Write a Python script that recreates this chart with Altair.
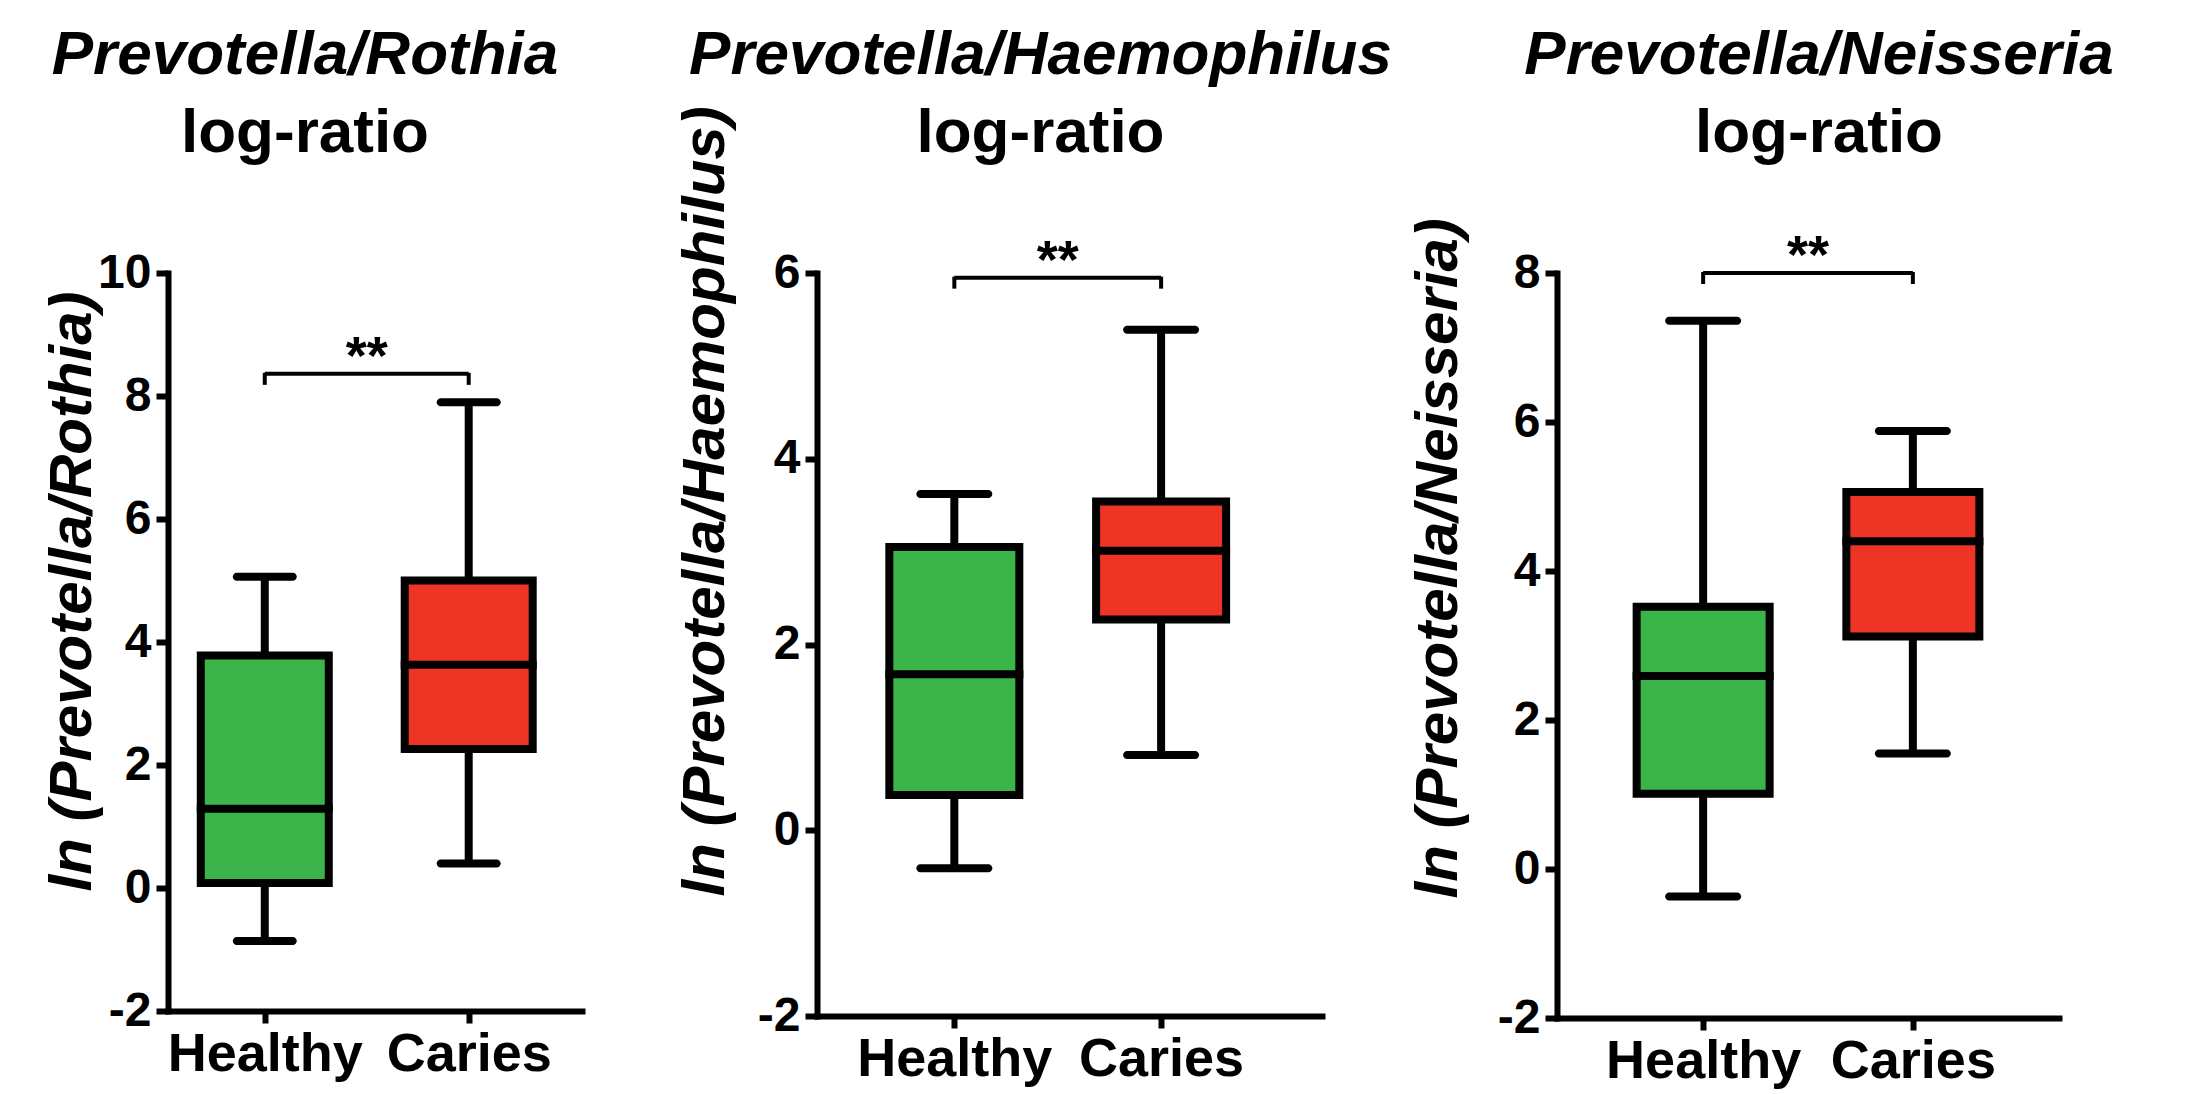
import altair as alt
import pandas as pd

# ---- data ----
groups = ["Healthy", "Caries"]
green = "#3BB44A"

r_lo = [-0.86, 0.40]
r_q1 = [0.08, 2.26]
r_med = [1.29, 3.63]
r_q3 = [3.78, 5.00]
r_hi = [5.06, 7.90]
r_bracket = 8.36

h_lo = [-0.41, 0.81]
h_q1 = [0.38, 2.27]
h_med = [1.68, 3.01]
h_q3 = [3.05, 3.54]
h_hi = [3.62, 5.39]
h_bracket = 5.95

n_lo = [-0.37, 1.55]
n_q1 = [1.01, 3.12]
n_med = [2.59, 4.40]
n_q3 = [3.52, 5.06]
n_hi = [7.36, 5.88]
n_bracket = 8.0

sig_label = "**"

FONT = "Liberation Sans"
SPACING = 235
SW = 8  # stroke width of boxes, whiskers and caps


def make_title(species, width, title_dx):
    return alt.Chart(pd.DataFrame({"v": [0]})).mark_point(opacity=0).encode(
        x=alt.value(0), y=alt.value(0)
    ).properties(
        width=width, height=1,
        title=alt.Title(text=f"Prevotella/{species}", subtitle="log-ratio",
                        font=FONT, fontSize=62, fontStyle="italic", fontWeight="bold",
                        color="black", subtitleFont=FONT, subtitleFontSize=62,
                        subtitleFontWeight="bold", subtitleColor="black",
                        subtitlePadding=16, anchor="middle", frame="group",
                        dx=title_dx, offset=0))


def make_panel(species, lo, q1, med, q3, hi, bracket, ymax, red, width, height,
               xdom, box_w, cap_w, ytitle_x):
    pos = list(range(len(groups)))
    df = pd.DataFrame({"group": groups, "pos": pos, "lo": lo, "q1": q1,
                       "med": med, "q3": q3, "hi": hi})
    br = pd.DataFrame({"x1": [pos[0]], "x2": [pos[1]], "y": [bracket],
                       "mid": [(pos[0] + pos[1]) / 2], "label": [sig_label]})
    br_ends = pd.DataFrame({"x": pos, "y": [bracket, bracket]})

    xs = alt.Scale(domain=xdom, nice=False, zero=False)
    ys = alt.Scale(domain=[-2, ymax], nice=False, zero=False)
    lab_expr = f"datum.value == 0 ? '{groups[0]}' : '{groups[1]}'"
    xaxis = alt.Axis(values=pos, labelExpr=lab_expr, title=None, grid=False,
                     domainWidth=6, domainColor="black", tickWidth=6, tickSize=12,
                     tickColor="black", labelFont=FONT, labelFontSize=54,
                     labelFontWeight="bold", labelColor="black", labelPadding=4,
                     labelLimit=600, domainCap="square")
    yaxis = alt.Axis(values=list(range(-2, ymax + 1, 2)), labelExpr="'' + datum.value",
                     title=f"ln (Prevotella/{species})", titleFont=FONT,
                     titleFontSize=60, titleFontWeight="bold", titleFontStyle="italic",
                     titleColor="black", titleAngle=270, titleAlign="left",
                     titleBaseline="alphabetic", titleX=ytitle_x, titleY=height - 120,
                     titleLimit=1000, grid=False, domainWidth=6, domainColor="black",
                     tickWidth=6, tickSize=12, tickColor="black", labelFont=FONT,
                     labelFontSize=48, labelFontWeight="bold", labelColor="black",
                     labelPadding=5, domainCap="square")

    base = alt.Chart(df)
    x = alt.X("pos:Q", scale=xs, axis=xaxis)
    whisk = base.mark_rule(strokeWidth=SW, color="black").encode(
        x=x, y=alt.Y("lo:Q", scale=ys, axis=yaxis), y2="hi:Q")
    cap_lo = base.mark_tick(orient="horizontal", size=cap_w, thickness=SW,
                            cornerRadius=SW / 2, color="black", opacity=1).encode(
        x="pos:Q", y="lo:Q")
    cap_hi = base.mark_tick(orient="horizontal", size=cap_w, thickness=SW,
                            cornerRadius=SW / 2, color="black", opacity=1).encode(
        x="pos:Q", y="hi:Q")
    box = base.mark_bar(width=box_w, stroke="black", strokeWidth=SW, opacity=1).encode(
        x="pos:Q", y="q1:Q", y2="q3:Q",
        color=alt.Color("group:N", scale=alt.Scale(domain=groups, range=[green, red]),
                        legend=None))
    median = base.mark_tick(orient="horizontal", size=box_w + SW, thickness=SW,
                            color="black", opacity=1).encode(x="pos:Q", y="med:Q")
    brule = alt.Chart(br).mark_rule(strokeWidth=4, color="black").encode(
        x="x1:Q", x2="x2:Q", y="y:Q")
    bends = alt.Chart(br_ends).mark_tick(orient="vertical", size=12, thickness=4,
                                         yOffset=5, color="black", opacity=1).encode(
        x="x:Q", y="y:Q")
    btext = alt.Chart(br).mark_text(font=FONT, fontSize=54, fontWeight="bold",
                                    baseline="alphabetic", dy=0, color="black").encode(
        x="mid:Q", y="y:Q", text="label:N")

    return alt.layer(whisk, cap_lo, cap_hi, box, median, brule, bends, btext).properties(
        width=width, height=height)


W = [414, 505, 502]
p1 = make_panel("Rothia", r_lo, r_q1, r_med, r_q3, r_hi, r_bracket, 10, "#EE3424",
                W[0], 738, [-0.45, 1.531], 128, 64, -78)
p2 = make_panel("Haemophilus", h_lo, h_q1, h_med, h_q3, h_hi, h_bracket, 6, "#FF2A00",
                W[1], 743, [-0.640, 1.754], 130, 76, -94)
p3 = make_panel("Neisseria", n_lo, n_q1, n_med, n_q3, n_hi, n_bracket, 8, "#FF2A00",
                W[2], 745, [-0.673, 1.673], 133, 76, -101)

t1 = make_title("Rothia", W[0], -70)
t2 = make_title("Haemophilus", W[1], -29)
t3 = make_title("Neisseria", W[2], 11)

titles_row = alt.hconcat(t1, t2, t3, spacing=SPACING, bounds="flush")
plots_row = alt.hconcat(p1, p2, p3, spacing=SPACING, bounds="flush")

chart = alt.vconcat(titles_row, plots_row, spacing=105, bounds="flush").properties(
    padding={"left": 33, "top": 15, "right": 5, "bottom": 0}, background="white"
).configure_view(stroke="transparent")

chart.save("out.html", embed_options={"renderer": "svg", "actions": False})
